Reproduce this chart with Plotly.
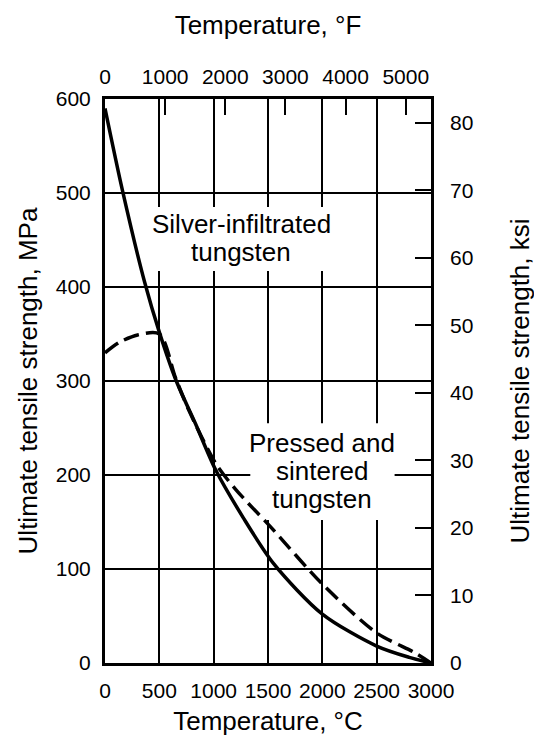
import plotly.graph_objects as go

# temperature in deg C, ultimate tensile strength in MPa
temp_silver = [0, 160, 365, 500, 656, 831, 1020, 1270, 1550, 2000, 2500, 2800, 3000]
uts_silver = [590, 503, 405, 352, 300, 255, 205, 155, 106, 52, 18, 6, 0]

temp_pressed = [0, 130, 300, 500, 650, 775, 1020, 1200, 1530, 2000, 2500, 2850, 3000]
uts_pressed = [330, 341, 349, 350, 303, 268, 212, 185, 144, 84, 32, 11, 0]

c_ticks = [0, 500, 1000, 1500, 2000, 2500, 3000]
mpa_ticks = [0, 100, 200, 300, 400, 500, 600]
f_ticks = [0, 1000, 2000, 3000, 4000, 5000]
ksi_ticks = [0, 10, 20, 30, 40, 50, 60, 70, 80]

silver_label = ["Silver-infiltrated", "tungsten"]
pressed_label = ["Pressed and", "sintered", "tungsten"]

font_name = "Liberation Sans, Arial, sans-serif"
tick_font = dict(family=font_name, size=21, color="black")
title_font = dict(family=font_name, size=26, color="black")
label_font = dict(family=font_name, size=26, color="black")

fig = go.Figure()
fig.add_trace(go.Scatter(x=temp_silver, y=uts_silver, mode="lines",
                         line=dict(color="black", width=3.5, shape="spline", smoothing=0.8),
                         showlegend=False, hoverinfo="skip"))
fig.add_trace(go.Scatter(x=temp_pressed, y=uts_pressed, mode="lines",
                         line=dict(color="black", width=3.5, dash="16px,7px",
                                   shape="spline", smoothing=0.8),
                         showlegend=False, hoverinfo="skip"))
# empty trace so the °F / ksi axes get drawn
fig.add_trace(go.Scatter(x=[None], y=[None], xaxis="x2", yaxis="y2",
                         showlegend=False, hoverinfo="skip"))

# page body has an 8px margin, so the figure is 8px smaller than the window
fig.update_layout(
    width=534, height=738,
    margin=dict(l=97, r=96, t=91, b=83),
    paper_bgcolor="white", plot_bgcolor="white",
    font=dict(family=font_name, color="black"),
    xaxis=dict(range=[0, 3000], tickvals=c_ticks, showgrid=True, gridcolor="black",
               gridwidth=1.5, zeroline=False, showline=True, linecolor="black",
               linewidth=3, mirror=True, ticks="", tickfont=tick_font,
               ticklabelstandoff=7,
               title=dict(text="Temperature, °C", font=title_font, standoff=11)),
    yaxis=dict(range=[0, 600], tickvals=mpa_ticks, showgrid=True, gridcolor="black",
               gridwidth=1.5, zeroline=False, showline=True, linecolor="black",
               linewidth=3, mirror=True, ticks="", tickfont=tick_font,
               ticklabelstandoff=7,
               title=dict(text="Ultimate tensile strength, MPa", font=title_font, standoff=11)),
    xaxis2=dict(overlaying="x", side="top", range=[0, 5420], tickvals=f_ticks,
                showgrid=False, zeroline=False, ticks="inside", ticklen=16,
                tickwidth=2, tickcolor="black", tickfont=tick_font,
                ticklabelstandoff=10,
                title=dict(text="Temperature, °F", font=title_font, standoff=22)),
    yaxis2=dict(overlaying="y", side="right", range=[0, 83.5], tickvals=ksi_ticks,
                showgrid=False, zeroline=False, ticks="inside", ticklen=16,
                tickwidth=2, tickcolor="black", tickfont=tick_font,
                ticklabelstandoff=18,
                title=dict(text="Ultimate tensile strength, ksi", font=title_font, standoff=38)),
)

# white patches that break the grid behind the labels (curves stay on top)
fig.add_shape(type="rect", xref="x", yref="y", x0=396, x1=2110, y0=417, y1=485,
              fillcolor="white", line_width=0, layer="between")
fig.add_shape(type="rect", xref="x", yref="y", x0=1337, x1=2665, y0=152, y1=255,
              fillcolor="white", line_width=0, layer="between")

for text, y in zip(silver_label, [467, 437]):
    fig.add_annotation(x=1253, y=y, xref="x", yref="y", showarrow=False,
                       text=text, font=label_font)
for text, y in zip(pressed_label, [234, 204, 174]):
    fig.add_annotation(x=2000, y=y, xref="x", yref="y", showarrow=False,
                       text=text, font=label_font)

fig.write_html("out.html")
